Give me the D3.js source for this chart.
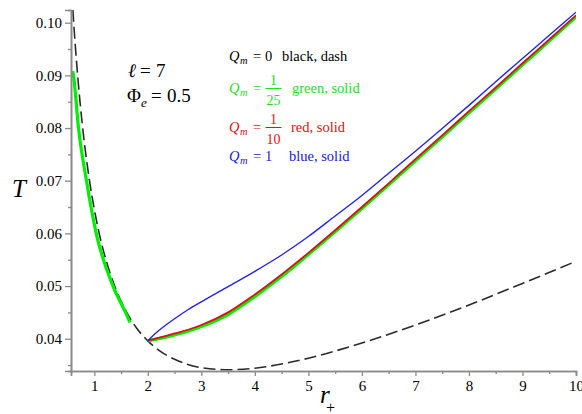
<!DOCTYPE html>
<html><head><meta charset="utf-8">
<script src="https://cdn.jsdelivr.net/npm/d3@7"></script>
<style>
body{margin:0;background:#fff}
svg{display:block}
</style>
</head><body>
<svg id="c" width="582" height="414"></svg>
<script>
// ---------- data ----------
const xMajorTicks = [1,2,3,4,5,6,7,8,9,10];
const xMinorTicks = [1.5,2.5,3.5,4.5,5.5,6.5,7.5,8.5,9.5];
const yMajorTicks = [0.04,0.05,0.06,0.07,0.08,0.09,0.10];
const yMinorTicks = [0.035,0.045,0.055,0.065,0.075,0.085,0.095];

// Q_m = 0 (black, dash)
const rDash = [0.58,0.6,0.65,0.7,0.8,0.9,1.0,1.1,1.2,1.4,1.6,1.8,2.0,2.25,2.5,3.0,3.5,4.0,4.5,5,6,7,8,9,10];
const tDash = [0.1057,0.1024,0.0950,0.0887,0.0785,0.0707,0.0646,0.0596,0.0556,0.0495,0.0451,0.0419,0.0396,0.0375,0.0361,0.0345,0.0341,0.0344,0.0352,0.0363,0.0392,0.0426,0.0464,0.0505,0.0547];

// Q_m = 1/25 (green), small branch and large branch
const rGreenSmall = [0.596,0.611,0.705,0.854,1.036,1.35,1.583,1.667];
const tGreenSmall = [0.0908,0.0900,0.0800,0.0700,0.0600,0.0500,0.0450,0.0431];
const rRight = [2.0,2.25,2.5,2.75,3.0,3.5,4.0,4.5,5.0,5.5,6.0,6.5,7.0,7.5,8.0,8.5,9.0,9.5,10];
const tGreenLarge = [0.0396,0.0401,0.0407,0.0414,0.0423,0.0446,0.0480,0.0518,0.0560,0.0603,0.0647,0.0692,0.0738,0.0783,0.0829,0.0874,0.0920,0.0965,0.1011];
// Q_m = 1/10 (red)
const tRed = [0.0396,0.0403,0.0410,0.0417,0.0426,0.0450,0.0484,0.0522,0.0563,0.0606,0.0650,0.0695,0.0741,0.0786,0.0832,0.0877,0.0923,0.0968,0.1014];
// Q_m = 1 (blue)
const rBlue = [2.0,2.1,2.2,2.35,2.5,2.75,3.0,3.5,4.0,4.5,5.0,5.5,6.0,6.5,7.0,7.5,8.0,8.5,9.0,9.5,10];
const tBlue = [0.0396,0.0406,0.0415,0.0427,0.0438,0.0455,0.0470,0.0499,0.0528,0.0559,0.0594,0.0633,0.0672,0.0714,0.0756,0.0799,0.0843,0.0888,0.0932,0.0976,0.1020];

// ---------- chart ----------
const svg = d3.select("#c");
const x = d3.scaleLinear().domain([0.565,10]).range([71,576]);
const y = d3.scaleLinear().domain([0.03387,0.10241]).range([371,10]);
const axisColor = "#8a8a8a";
const serif = "'Liberation Serif','Times New Roman',serif";

svg.append("defs").append("clipPath").attr("id","clip")
  .append("rect").attr("x",71).attr("y",10).attr("width",505).attr("height",361);

const plot = svg.append("g").attr("clip-path","url(#clip)");
const line = d3.line().x(d=>x(d[0])).y(d=>y(d[1])).curve(d3.curveMonotoneX);
const zip = (a,b)=>a.map((v,i)=>[v,b[i]]);

plot.append("path").datum(zip(rDash,tDash)).attr("d",line)
  .attr("fill","none").attr("stroke","#2a2a2a").attr("stroke-width",1.6).attr("stroke-dasharray","12,5");
plot.append("path").datum(zip(rGreenSmall,tGreenSmall)).attr("d",line)
  .attr("fill","none").attr("stroke","#00ee00").attr("stroke-width",3.2);
plot.append("path").datum(zip(rRight,tGreenLarge)).attr("d",line)
  .attr("fill","none").attr("stroke","#00ee00").attr("stroke-width",3.2);
plot.append("path").datum(zip(rRight,tRed)).attr("d",line)
  .attr("fill","none").attr("stroke","#e01010").attr("stroke-width",1.8);
plot.append("path").datum(zip(rBlue,tBlue)).attr("d",line)
  .attr("fill","none").attr("stroke","#2222f0").attr("stroke-width",1.4);

// axes
const gx = svg.append("g").attr("transform","translate(0,371)");
gx.call(d3.axisBottom(x).tickValues(xMajorTicks).tickSize(5).tickPadding(4).tickFormat(d3.format("d")));
const gxm = svg.append("g").attr("transform","translate(0,371)");
gxm.call(d3.axisBottom(x).tickValues(xMinorTicks).tickSize(3).tickFormat(""));
const gy = svg.append("g").attr("transform","translate(71,0)");
gy.call(d3.axisLeft(y).tickValues(yMajorTicks).tickSize(6).tickPadding(3).tickFormat(d3.format(".2f")));
const gym = svg.append("g").attr("transform","translate(71,0)");
gym.call(d3.axisLeft(y).tickValues(yMinorTicks).tickSize(3).tickFormat(""));

[gx,gxm,gy,gym].forEach(g=>{
  g.attr("font-family",null);
  g.select(".domain").attr("stroke",axisColor).attr("stroke-width",1.6);
  g.selectAll(".tick line").attr("stroke",axisColor).attr("stroke-width",1.3);
  g.selectAll(".tick text").style("font-family",serif).attr("font-size",15).attr("fill","#000");
});

function txt(xp,yp,size,s,opts={}){
  const t = svg.append("text").attr("x",xp).attr("y",yp).attr("font-size",size)
    .style("font-family",serif).attr("fill",opts.color||"#000").text(s);
  if(opts.italic) t.attr("font-style","italic");
  if(opts.anchor) t.attr("text-anchor",opts.anchor);
  return t;
}

// axis titles
txt(12,197,25,"T",{italic:true});
txt(320,403,25,"r",{italic:true});
txt(326,413,16,"+");

// parameter annotations
txt(128,77,19,"ℓ",{italic:true});
txt(140,77,19,"=");
txt(156,77,19,"7");
txt(127,102,19,"Φ");
txt(141,107,13,"e",{italic:true});
txt(151,102,19,"=");
txt(167,102,19,"0.5");

// legend
function qm(yb,color){
  txt(229,yb,14.5,"Q",{italic:true,color});
  txt(240,yb+3,10.5,"m",{italic:true,color});
  txt(253,yb,14.5,"=",{color});
}
function frac(yb,color,num,den){
  const cx=273.5;
  txt(cx,yb-8.5,14,num,{anchor:"middle",color});
  svg.append("line").attr("x1",265.5).attr("x2",281.5).attr("y1",yb-4.5).attr("y2",yb-4.5).attr("stroke",color).attr("stroke-width",1);
  txt(cx,yb+12,14,den,{anchor:"middle",color});
}
const cBlack="#000", cGreen="#1ee01e", cRed="#dd1111", cBlue="#2020d0";
qm(61,cBlack);
txt(265,61,14.5,"0",{color:cBlack});
txt(282,61,14.5,"black, dash",{color:cBlack});

qm(93,cGreen); frac(93,cGreen,"1","25");
txt(292,93,14.5,"green, solid",{color:cGreen});

qm(132,cRed); frac(132,cRed,"1","10");
txt(291,132,14.5,"red, solid",{color:cRed});

qm(161,cBlue);
txt(265,161,14.5,"1",{color:cBlue});
txt(289,161,14.5,"blue, solid",{color:cBlue});
</script>
</body></html>
